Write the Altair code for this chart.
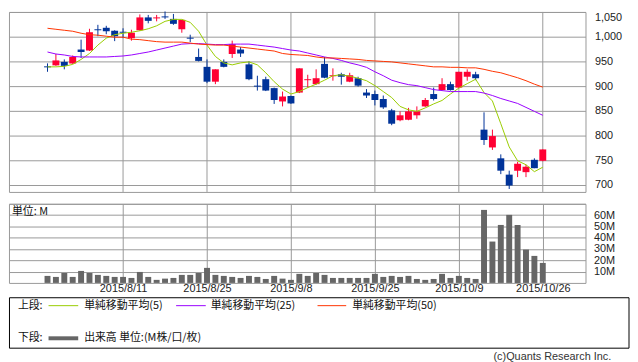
import altair as alt
import pandas as pd

# ---------------- data ----------------
dates = ["2015/7/29", "2015/7/30", "2015/7/31", "2015/8/3", "2015/8/4", "2015/8/5", "2015/8/6", "2015/8/7",
         "2015/8/10", "2015/8/11", "2015/8/12", "2015/8/13", "2015/8/14", "2015/8/17", "2015/8/18", "2015/8/19",
         "2015/8/20", "2015/8/21", "2015/8/24", "2015/8/25", "2015/8/26", "2015/8/27", "2015/8/28", "2015/8/31",
         "2015/9/1", "2015/9/2", "2015/9/3", "2015/9/4", "2015/9/7", "2015/9/8", "2015/9/9", "2015/9/10",
         "2015/9/11", "2015/9/14", "2015/9/15", "2015/9/16", "2015/9/17", "2015/9/18", "2015/9/24", "2015/9/25",
         "2015/9/28", "2015/9/29", "2015/9/30", "2015/10/1", "2015/10/2", "2015/10/5", "2015/10/6", "2015/10/7",
         "2015/10/8", "2015/10/9", "2015/10/13", "2015/10/14", "2015/10/15", "2015/10/16", "2015/10/19",
         "2015/10/20", "2015/10/21", "2015/10/22", "2015/10/23", "2015/10/26"]

opens = [940, 942, 949, 946, 974, 972, 1015, 1018, 1012, 1010, 997, 1013, 1039, 1037, 1041, 1036,
         1015, 998, 959, 939, 909, 949, 965, 974, 944, 901, 914, 896, 869, 880, 887, 912,
         904, 945, 920, 924, 909, 916, 887, 884, 874, 851, 831, 832, 841, 859, 884, 892,
         904, 897, 919, 924, 812, 776, 754, 721, 729, 726, 751, 749]
highs = [946, 965, 954, 962, 994, 1016, 1024, 1022, 1013, 1017, 1014, 1045, 1044, 1044, 1051, 1046,
         1034, 1004, 976, 954, 934, 954, 992, 979, 950, 921, 919, 897, 889, 881, 936, 923,
         934, 959, 936, 927, 927, 919, 894, 891, 881, 854, 849, 856, 859, 876, 897, 916,
         909, 929, 934, 929, 847, 812, 762, 729, 747, 741, 754, 772]
lows = [929, 941, 934, 945, 957, 971, 1001, 1005, 991, 997, 992, 1012, 1027, 1031, 1036, 1024,
        1008, 989, 950, 906, 904, 938, 957, 959, 912, 891, 890, 864, 859, 864, 886, 897,
        903, 916, 911, 903, 908, 899, 876, 861, 854, 821, 829, 831, 834, 858, 871, 891,
        891, 896, 911, 912, 781, 771, 722, 692, 716, 716, 734, 748]
closes = [938, 952, 941, 959, 969, 1009, 1013, 1011, 1001, 1008, 1008, 1039, 1032, 1039, 1039, 1026,
          1034, 996, 951, 909, 934, 939, 985, 966, 914, 899, 891, 872, 879, 865, 936, 914,
          916, 917, 922, 919, 922, 901, 881, 872, 857, 824, 841, 849, 849, 872, 874, 904,
          892, 929, 929, 916, 791, 799, 729, 699, 743, 737, 734, 772]

ma5 = [939, 939, 940, 944, 954, 966, 983, 997, 1004, 1007, 1009, 1012, 1016, 1022, 1031, 1035,
       1035, 1029, 1011, 983, 960, 947, 943, 947, 949, 943, 927, 909, 894, 884, 889, 897,
       904, 912, 921, 923, 920, 916, 911, 901, 889, 877, 859, 852, 849, 856, 864, 871,
       884, 896, 905, 914, 887, 870, 824, 777, 749, 741, 727, 736]
ma25 = [969, 965, 963, 960, 959, 959, 959, 959, 960, 961, 963, 966, 969, 973, 977, 981,
        985, 986, 986, 985, 984, 984, 985, 985, 985, 983, 981, 979, 976, 973, 971, 967,
        963, 959, 956, 952, 947, 943, 938, 929, 921, 912, 907, 903, 901, 897, 893, 891,
        889, 889, 889, 889, 886, 881, 875, 870, 865, 857, 849, 841]
ma50 = [1017, 1015, 1013, 1011, 1007, 1004, 1003, 1001, 999, 999, 995, 994, 992, 990, 989, 989,
        989, 987, 985, 984, 983, 983, 981, 979, 977, 975, 973, 971, 966, 964, 963, 962,
        959, 957, 957, 956, 955, 954, 952, 951, 950, 949, 947, 945, 943, 941, 939, 939,
        938, 938, 937, 937, 934, 930, 927, 922, 917, 911, 904, 898]

volume_m = [6.2, 5.3, 8.8, 5.3, 10.6, 8.8, 7.1, 6.2, 5.3, 5.3, 4.4, 9.7, 5.3, 2.7, 3.8, 4.4,
            7.1, 7.1, 8.8, 13.3, 7.1, 6.2, 5.3, 4.4, 6.2, 5.3, 3.5, 6.2, 3.8, 2.7, 8.0, 6.2,
            8.8, 7.1, 4.4, 4.4, 4.4, 4.4, 4.4, 8.0, 5.3, 6.2, 5.3, 6.2, 3.5, 2.7, 3.5, 8.0,
            4.4, 6.2, 4.4, 3.5, 64.6, 36.6, 51.3, 60.2, 51.3, 29.5, 23.9, 17.7]

tick_idx = [9, 19, 29, 39, 49, 59]
price_ticks = [700, 750, 800, 850, 900, 950, 1000, 1050]
vol_ticks = [10, 20, 30, 40, 50, 60, 70]

ma_names = ["単純移動平均(5)", "単純移動平均(25)", "単純移動平均(50)"]
ma_colors = ["#99cc00", "#9900ff", "#ff3300"]

# ---------------- tables ----------------
n = len(dates)
df = pd.DataFrame({"idx": list(range(n)), "date": dates, "open": opens, "high": highs,
                   "low": lows, "close": closes, "vol": volume_m})
ma_df = pd.concat([
    pd.DataFrame({"idx": list(range(n)), "value": vals, "series": name})
    for name, vals in zip(ma_names, [ma5, ma25, ma50])
])
tick_df = pd.DataFrame({"idx": tick_idx})

RED = "#ff0033"
BLUE = "#003399"
GRID = "#999999"
JP = "Noto Sans CJK JP"
NUM = "Liberation Sans"

label_expr = "".join(f"datum.value == {i} ? '{dates[i]}' : " for i in tick_idx) + "''"

xscale = alt.Scale(domain=[-4, 63.5], nice=False, zero=False)
pscale = alt.Scale(domain=[686, 1050], nice=False, zero=False)
vscale = alt.Scale(domain=[0, 70], nice=False)

candle_color = alt.condition("datum.close >= datum.open", alt.value(RED), alt.value(BLUE))

y_price_axis = alt.Axis(orient="right", values=price_ticks, grid=True, ticks=False,
                        tickSize=0, domain=False, labelPadding=9, title=None, labelFont=NUM,
                        labelFontSize=11, labelColor="#222222", labelFlush=True,
                        labelExpr="format(datum.value, ',d')")

vgrid = alt.Chart(tick_df).mark_rule(color=GRID, strokeWidth=1).encode(
    x=alt.X("idx:Q", scale=xscale, axis=None),
)
wicks = alt.Chart(df).mark_rule(strokeWidth=1).encode(
    x=alt.X("idx:Q", scale=xscale, axis=None),
    y=alt.Y("low:Q", scale=pscale, axis=y_price_axis),
    y2="high:Q",
    color=candle_color,
)
bodies = alt.Chart(df).mark_bar(size=7).encode(
    x=alt.X("idx:Q", scale=xscale, axis=None),
    y=alt.Y("open:Q", scale=pscale, axis=y_price_axis),
    y2="close:Q",
    color=candle_color,
)
ma_lines = alt.Chart(ma_df).mark_line(strokeWidth=1, interpolate="linear").encode(
    x=alt.X("idx:Q", scale=xscale, axis=None),
    y=alt.Y("value:Q", scale=pscale, axis=y_price_axis),
    color=alt.Color("series:N", scale=alt.Scale(domain=ma_names, range=ma_colors), legend=None),
    detail="series:N",
)
price = alt.layer(vgrid, wicks, bodies, ma_lines).properties(width=583, height=182)

# ---------------- volume panel ----------------
vol_bars = alt.Chart(df).mark_bar(size=6, color="#666666").encode(
    x=alt.X("idx:Q", scale=xscale,
            axis=alt.Axis(values=tick_idx, labelExpr=label_expr, ticks=False, tickSize=0,
                          domain=False, grid=True, title=None, labelPadding=0, labelFont=NUM,
                          labelFontSize=11, labelColor="#222222", labelFlush=False)),
    y=alt.Y("vol:Q", scale=vscale,
            axis=alt.Axis(orient="right", values=vol_ticks, grid=True, ticks=False, tickSize=0,
                          domain=False, labelPadding=8, title=None, labelFont=NUM, labelFontSize=11,
                          labelColor="#222222",
                          labelExpr="datum.value < 70 ? datum.value + 'M' : ''")),
)

one = pd.DataFrame({"a": [0]})


def txt(s, x, y, align="left", size=11, color="#111111", font=JP):
    return alt.Chart(one).mark_text(text=s, align=align, baseline="middle", font=font,
                                    fontSize=size, color=color).encode(
        x=alt.value(x), y=alt.value(y))


def hline(x1, x2, y, color, w):
    return alt.Chart(one).mark_rule(color=color, strokeWidth=w).encode(
        x=alt.value(x1), x2=alt.value(x2), y=alt.value(y))


unit_txt = txt("単位: M", 3, 8)

box = alt.Chart(one).mark_rect(fill="white", fillOpacity=0, stroke="#000000", strokeWidth=1).encode(
    x=alt.value(0.5), x2=alt.value(627), y=alt.value(95), y2=alt.value(146))

row1 = 103
row2 = 136
legend_layers = [
    box,
    txt("上段:", 9, row1),
    hline(40, 70, row1, ma_colors[0], 1),
    txt(ma_names[0], 76, row1),
    hline(169, 199, row1, ma_colors[1], 1),
    txt(ma_names[1], 204, row1),
    hline(312, 341, row1, ma_colors[2], 1),
    txt(ma_names[2], 347, row1),
    txt("下段:", 9, row2),
    hline(40, 70, row2, "#666666", 4),
    txt("出来高 単位:(M株/口/枚)", 76, row2),
    txt("(c)Quants Research Inc.", 609, 155, align="right", size=11, color="#333333", font=NUM),
]

volume = alt.layer(vol_bars, unit_txt, *legend_layers).properties(width=583, height=80)

chart = alt.vconcat(price, volume, spacing=10).properties(
    padding=0
).configure_view(
    stroke=GRID, strokeWidth=1
).configure_axis(
    gridColor=GRID, gridOpacity=1, gridWidth=1
)

chart.save("out.html", embed_options={"renderer": "svg", "actions": False})
